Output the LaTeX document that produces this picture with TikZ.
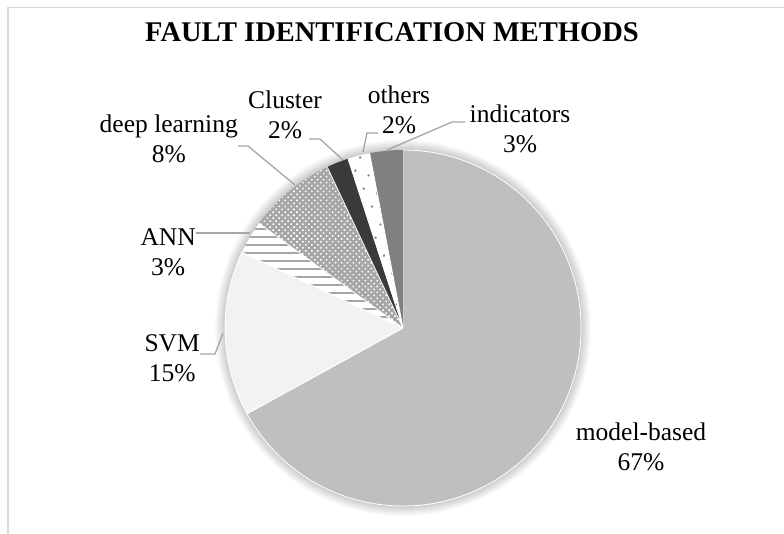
\documentclass[tikz,border=0pt]{standalone}
\usepackage{fontspec}
\setmainfont{Liberation Serif}
\usetikzlibrary{patterns.meta}
\definecolor{frameC}{HTML}{D9D9D9}
\definecolor{mbC}{HTML}{BFBFBF}
\definecolor{svmC}{HTML}{F2F2F2}
\definecolor{stripeC}{HTML}{A6A6A6}
\definecolor{dlC}{HTML}{A6A6A6}
\definecolor{clC}{HTML}{3A3A3A}
\definecolor{dotC}{HTML}{7F7F7F}
\definecolor{indC}{HTML}{808080}
\definecolor{leadC}{HTML}{A6A6A6}
\tikzset{
  lbl/.style={align=center, inner sep=0pt, font=\fontsize{25.5}{30}\selectfont},
  leader/.style={draw=leadC, line width=1.3pt},
  sliceedge/.style={draw=white, line width=0.8pt, line join=round},
}
\newcommand{\pieR}{178}
\newcommand{\slice}[3]{\path[#3] (0,0) -- (#1:\pieR) arc[start angle=#1, end angle=#2, radius=\pieR] -- cycle;}
\begin{document}
\begin{tikzpicture}[x=1pt,y=-1pt]
\useasboundingbox (0,0) rectangle (784,533);
\fill[white] (0,0) rectangle (784,533);
% chart frame
\draw[frameC, line width=1.5pt] (8,540) -- (8,7.5) -- (790,7.5);
% title
\node[inner sep=0pt, font=\bfseries\fontsize{28.5}{32}\selectfont] (title) at (392,32) {FAULT IDENTIFICATION METHODS};
% pie
\begin{scope}[shift={(403,328)}]
  \foreach \i in {1,...,10} {\fill[black, opacity=0.018] (0,0) circle ({\pieR+\i});}
  \slice{-90}{151.2}{fill=mbC, sliceedge}
  \slice{151.2}{205.2}{fill=svmC, sliceedge}
  \slice{205.2}{216}{fill=white, postaction={pattern={Lines[angle=0,distance=8pt,line width=2pt]}, pattern color=stripeC}}
  \slice{216}{244.8}{fill=dlC, postaction={pattern={Dots[angle=45,distance=4.2pt,radius=1.1pt]}, pattern color=white}}
  \slice{244.8}{252}{fill=clC}
  \slice{252}{259.2}{fill=white, postaction={pattern={Dots[angle=70,distance=14pt,radius=1.3pt]}, pattern color=dotC}}
  \slice{259.2}{270}{fill=indC}
  \path[sliceedge] (0,0) -- (205.2:\pieR) (0,0) -- (216:\pieR) (0,0) -- (244.8:\pieR) (0,0) -- (252:\pieR) (0,0) -- (259.2:\pieR);
\end{scope}
% labels
\node[lbl] (mb) at (641,447) {model-based\\67\%};
\node[lbl, anchor=east] (svm) at (200,358) {SVM\\15\%};
\node[lbl, anchor=east] (ann) at (196,252) {ANN\\3\%};
\node[lbl, anchor=east] (dl) at (238,139) {deep learning\\8\%};
\node[lbl] (cl) at (285,115) {Cluster\\2\%};
\node[lbl] (ot) at (399,110) {others\\2\%};
\node[lbl] (ind) at (520,129) {indicators\\3\%};
% leader anchor points on the pie
\coordinate (pSVM) at (223,333);
\coordinate (bSVM) at (215,354);
\coordinate (pANN) at (250,233);
\coordinate (pDL) at (295,185);
\coordinate (bDL) at (248,146);
\coordinate (pCL) at (343,160);
\coordinate (bCL) at (320,139);
\coordinate (pOT) at (363,152);
\coordinate (bOT) at (367,133);
\coordinate (pIND) at (387,150);
\coordinate (bIND) at (452,122);
\draw[leader] (pSVM) -- (bSVM) -- (svm.east |- bSVM);
\draw[leader] (pANN) -- (ann.east |- pANN);
\draw[leader] (pDL) -- (bDL) -- (dl.east |- bDL);
\draw[leader] (pCL) -- (bCL) -- (309,139);
\draw[leader] (pOT) -- (bOT) -- (378,133);
\draw[leader] (pIND) -- (bIND) -- (465,122);
\end{tikzpicture}
\end{document}
